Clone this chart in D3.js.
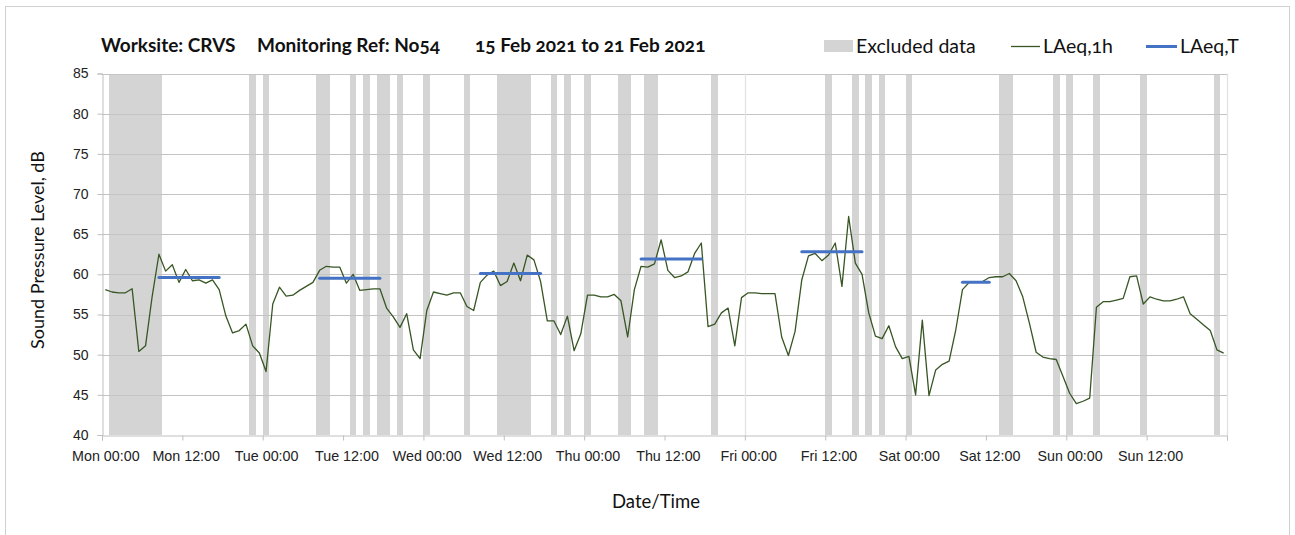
<!DOCTYPE html>
<html>
<head>
<meta charset="utf-8">
<script src="https://cdn.jsdelivr.net/npm/d3@7"></script>
<style>
  body { margin: 0; background: #fff; }
  svg { font-family: Lato, "Open Sans", sans-serif; font-variant-numeric: oldstyle-nums; }
  .axis path, .axis line { stroke: #bfbfbf; }
  .axis text { fill: #222; }
</style>
</head>
<body>
<div id="chart"></div>
<script>
// hourly LAeq,1h values, Mon 00:00 .. Sun 23:00
const laeq1h = [
  58.1, 57.8, 57.7, 57.7, 58.2, 50.4, 51.1, 57.3, 62.5, 60.4, 61.2, 59.0,
  60.6, 59.2, 59.3, 58.9, 59.3, 58.1, 54.8, 52.7, 53.0, 53.8, 51.1, 50.2,
  47.9, 56.3, 58.4, 57.3, 57.4, 58.0, 58.5, 59.0, 60.5, 61.0, 60.9, 60.9,
  58.9, 60.0, 58.0, 58.1, 58.2, 58.2, 55.8, 54.7, 53.4, 55.1, 50.6, 49.5,
  55.5, 57.8, 57.6, 57.4, 57.7, 57.7, 56.0, 55.5, 59.0, 59.9, 60.4, 58.6,
  59.1, 61.4, 59.2, 62.4, 61.8, 59.1, 54.2, 54.2, 52.5, 54.8, 50.5, 52.6,
  57.4, 57.4, 57.2, 57.2, 57.5, 56.7, 52.2, 58.1, 61.0, 60.9, 61.3, 64.3,
  60.5, 59.6, 59.8, 60.3, 62.6, 63.9, 53.5, 53.8, 55.2, 55.8, 51.1, 57.1,
  57.7, 57.7, 57.6, 57.6, 57.6, 52.2, 49.9, 52.9, 59.3, 62.3, 62.6, 61.7,
  62.4, 63.9, 58.5, 67.2, 61.4, 60.0, 55.2, 52.3, 52.0, 53.6, 51.0, 49.5,
  49.8, 45.0, 54.3, 44.9, 48.1, 48.8, 49.2, 53.1, 58.1, 59.0, 59.0, 59.1,
  59.6, 59.7, 59.7, 60.1, 59.2, 57.2, 53.9, 50.3, 49.7, 49.5, 49.4, 47.3,
  45.2, 43.9, 44.2, 44.6, 55.9, 56.6, 56.6, 56.8, 57.0, 59.7, 59.8, 56.3,
  57.2, 56.9, 56.7, 56.7, 56.9, 57.2, 55.1, 54.4, 53.7, 53.0, 50.6, 50.2
];

// hours flagged as excluded
const excludedHours = [1, 2, 3, 4, 5, 6, 7, 8, 22, 24, 32, 33, 37, 39, 41, 42, 44, 48,
  54, 59, 60, 61, 62, 63, 67, 69, 72, 77, 78, 81, 82, 91, 108, 112, 114, 116,
  120, 134, 135, 142, 144, 148, 155, 166];

// LAeq,T periods (first and last hour) and levels
const periodStart = [8, 32, 56, 80, 104, 128];
const periodEnd = [17, 41, 65, 89, 113, 132];
const laeqT = [59.6, 59.5, 60.1, 61.9, 62.8, 59.0];

const tickLabels = ["Mon 00:00", "Mon 12:00", "Tue 00:00", "Tue 12:00", "Wed 00:00", "Wed 12:00",
  "Thu 00:00", "Thu 12:00", "Fri 00:00", "Fri 12:00", "Sat 00:00", "Sat 12:00", "Sun 00:00", "Sun 12:00"];
const yTicks = [40, 45, 50, 55, 60, 65, 70, 75, 80, 85];

const width = 1295, height = 535;

const svg = d3.select("#chart").append("svg")
  .attr("width", width).attr("height", height);

// outer frame
svg.append("rect").attr("x", 5.5).attr("y", 6.5).attr("width", 1284).attr("height", 540)
  .attr("fill", "#fff").attr("stroke", "#d0d0d0");

const x = d3.scaleLinear().domain([0, 168]).range([102, 1227]);
const y = d3.scaleLinear().domain([40, 85]).range([435, 73.5]);

// excluded bars
svg.append("g").attr("shape-rendering", "crispEdges")
  .selectAll("rect").data(excludedHours).join("rect")
  .attr("x", d => x(d)).attr("width", d => x(d + 1) - x(d))
  .attr("y", y(85)).attr("height", y(40) - y(85))
  .attr("fill", "#d4d4d4");

// gridlines
svg.append("g").selectAll("line").data(yTicks.slice(1)).join("line")
  .attr("x1", x(0)).attr("x2", x(168))
  .attr("y1", d => Math.round(y(d)) + 0.5).attr("y2", d => Math.round(y(d)) + 0.5)
  .attr("stroke", "#c4c4c4");

// faint vertical lines (Fri 00:00 and right edge of the plot)
svg.append("g").selectAll("line").data([96, 168]).join("line")
  .attr("x1", d => Math.round(x(d)) + 0.5).attr("x2", d => Math.round(x(d)) + 0.5)
  .attr("y1", y(85)).attr("y2", y(40))
  .attr("stroke", "#e3e3e3").attr("stroke-width", 1.3);

// y axis
const yAxis = d3.axisLeft(y).tickValues(yTicks).tickSize(5).tickPadding(9);
svg.append("g").attr("class", "axis").attr("transform", "translate(102.5,0)").call(yAxis)
  .call(g => g.selectAll(".tick text").attr("font-size", 14));

// x axis ticks
const xAxis = d3.axisBottom(x).tickValues(d3.range(0, 169, 12)).tickSize(5).tickFormat("");
svg.append("g").attr("class", "axis").attr("transform", "translate(0,435.5)").call(xAxis);

// x labels at the middle of the first hour of each block
const xLabels = d3.axisBottom(x).tickValues(d3.range(0, 168, 12).map(h => h + 0.5))
  .tickSize(0).tickPadding(15).tickFormat((d, i) => tickLabels[i]);
svg.append("g").attr("class", "axis").attr("transform", "translate(0,435.5)").call(xLabels)
  .call(g => g.select(".domain").remove())
  .call(g => g.selectAll(".tick text").attr("font-size", 14.3));

// LAeq,1h line
const line = d3.line().x((d, i) => x(i + 0.5)).y(d => y(d));
svg.append("path").datum(laeq1h).attr("d", line)
  .attr("fill", "none").attr("stroke", "#375623").attr("stroke-width", 1.3)
  .attr("stroke-linejoin", "round");

// LAeq,T segments
svg.append("g").selectAll("line").data(laeqT).join("line")
  .attr("x1", (d, i) => x(periodStart[i] + 0.5)).attr("x2", (d, i) => x(periodEnd[i] + 0.5))
  .attr("y1", d => y(d)).attr("y2", d => y(d))
  .attr("stroke", "#4472c4").attr("stroke-width", 3).attr("stroke-linecap", "round");

// title
const title = svg.append("text").attr("y", 52).attr("font-size", 19).attr("font-weight", "bold").attr("fill", "#111");
title.append("tspan").attr("x", 101).text("Worksite: CRVS");
title.append("tspan").attr("x", 257).text("Monitoring Ref: No54");
title.append("tspan").attr("x", 475).text("15 Feb 2021 to 21 Feb 2021");

// legend
const lg = svg.append("g").attr("font-size", 19.5).attr("fill", "#111");
lg.append("rect").attr("x", 824).attr("y", 40).attr("width", 29).attr("height", 12).attr("fill", "#d4d4d4");
lg.append("text").attr("x", 856).attr("y", 53).text("Excluded data");
lg.append("line").attr("x1", 1011).attr("x2", 1040).attr("y1", 46.5).attr("y2", 46.5)
  .attr("stroke", "#375623").attr("stroke-width", 1.3);
lg.append("text").attr("x", 1043).attr("y", 53).text("LAeq,1h");
lg.append("line").attr("x1", 1146).attr("x2", 1177).attr("y1", 46.5).attr("y2", 46.5)
  .attr("stroke", "#4472c4").attr("stroke-width", 3);
lg.append("text").attr("x", 1180).attr("y", 53).text("LAeq,T");

// axis titles
svg.append("text").attr("x", 656).attr("y", 508).attr("text-anchor", "middle")
  .attr("font-size", 18.5).attr("fill", "#111").text("Date/Time");
svg.append("text").attr("transform", "translate(44,250) rotate(-90)").attr("text-anchor", "middle")
  .attr("font-size", 18).attr("fill", "#111").text("Sound Pressure Level, dB");
</script>
</body>
</html>
